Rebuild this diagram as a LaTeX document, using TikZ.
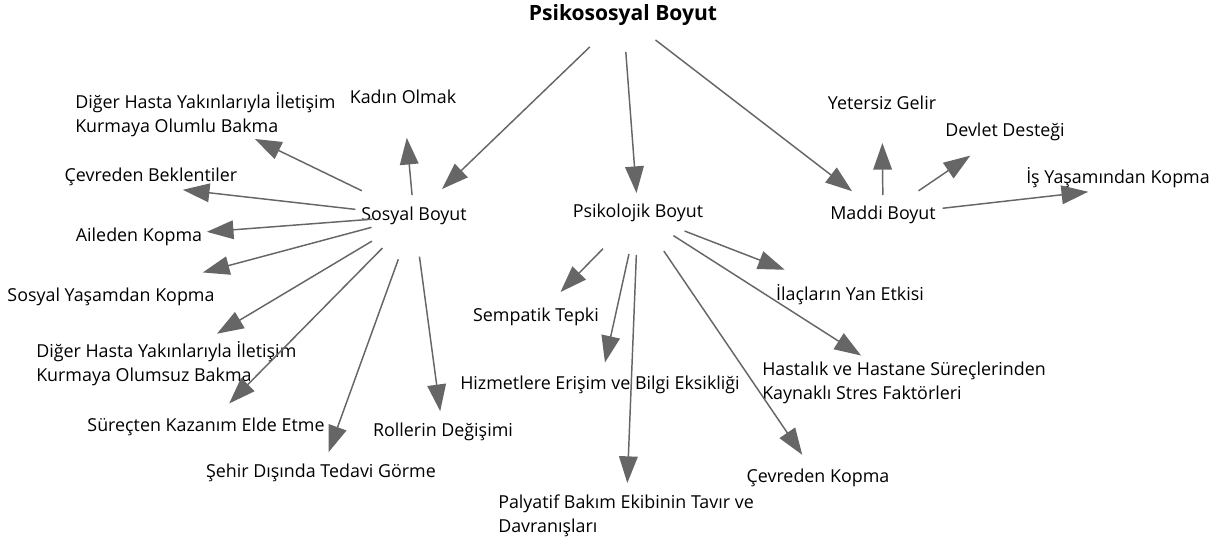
\documentclass[tikz,border=0pt]{standalone}
\usepackage{fontspec}
\setmainfont{Open Sans}
\usetikzlibrary{arrows.meta}
\definecolor{okgri}{HTML}{666666}
\begin{document}
\begin{tikzpicture}[x=0.75pt,y=-0.75pt,
    etiket/.style={inner sep=0pt, font=\fontsize{13.4}{18}\selectfont},
    ok/.style={draw=okgri, line width=1.1pt, -{Triangle[length=20pt,width=14pt]}, color=okgri},
    kisalt/.style 2 args={shorten <=#1*0.75pt, shorten >=#2*0.75pt}]
        \useasboundingbox (0,0) rectangle (1227,541);
        % ana baslik
        \node[etiket, font=\fontsize{15.8}{18}\selectfont\bfseries] (psiko) at (623,15) {Psikososyal Boyut};
        % boyutlar
        \node[etiket] (sosyal) at (414,216) {Sosyal Boyut};
        \node[etiket] (psikolojik) at (638,213) {Psikolojik Boyut};
        \node[etiket] (maddi) at (883,215) {Maddi Boyut};
        % maddi boyut
        \node[etiket] (yetersiz) at (882,103) {Yetersiz Gelir};
        \node[etiket] (devlet) at (1005,132) {Devlet Desteği};
        \node[etiket] (isyasam) at (1118,178) {İş Yaşamından Kopma};
        % sosyal boyut
        \node[etiket] (kadin) at (403,97) {Kadın Olmak};
        \node[etiket, anchor=west, align=left] (olumlu) at (75,115) {Diğer Hasta Yakınlarıyla İletişim\\Kurmaya Olumlu Bakma};
        \node[etiket] (beklenti) at (151,177) {Çevreden Beklentiler};
        \node[etiket] (aileden) at (139,237) {Aileden Kopma};
        \node[etiket] (sosyalyasam) at (111,297) {Sosyal Yaşamdan Kopma};
        \node[etiket, anchor=west, align=left] (olumsuz) at (36,364) {Diğer Hasta Yakınlarıyla İletişim\\Kurmaya Olumsuz Bakma};
        \node[etiket] (surecten) at (206,427) {Süreçten Kazanım Elde Etme};
        \node[etiket] (roller) at (443,432) {Rollerin Değişimi};
        \node[etiket] (sehir) at (321,473) {Şehir Dışında Tedavi Görme};
        % psikolojik boyut
        \node[etiket] (sempatik) at (536,317) {Sempatik Tepki};
        \node[etiket] (hizmet) at (600,385) {Hizmetlere Erişim ve Bilgi Eksikliği};
        \node[etiket, anchor=west, align=left] (palyatif) at (498,516) {Palyatif Bakım Ekibinin Tavır ve\\Davranışları};
        \node[etiket] (cevrekopma) at (818,478) {Çevreden Kopma};
        \node[etiket] (ilac) at (850,295) {İlaçların Yan Etkisi};
        \node[etiket, anchor=west, align=left] (hastalik) at (762,383) {Hastalık ve Hastane Süreçlerinden\\Kaynaklı Stres Faktörleri};
        % oklar
        \draw[ok, kisalt={46}{39}] (psiko.center) -- (sosyal.center);
        \draw[ok, kisalt={37}{20}] (psiko.center) -- (psikolojik.center);
        \draw[ok, kisalt={41}{39}] (psiko.center) -- (maddi.center);
        \draw[ok, kisalt={20}{40}] (maddi.center) -- (yetersiz.center);
        \draw[ok, kisalt={43}{42}] (maddi.center) -- (devlet.center);
        \draw[ok, kisalt={60}{30}] (maddi.center) -- (isyasam.south);
        \draw[ok, kisalt={21}{41}] (sosyal.center) -- (kadin.center);
        \draw[ok, kisalt={58}{55}] (sosyal.center) -- (olumlu.center);
        \draw[ok, kisalt={59}{32}] (sosyal.center) -- (beklenti.south);
        \draw[ok, kisalt={42}{68}] (sosyal.center) -- (aileden.center);
        \draw[ok, kisalt={44}{95}] (sosyal.center) -- (sosyalyasam.center);
        \draw[ok, kisalt={49}{59}] (sosyal.center) -- (olumsuz.center);
        \draw[ok, kisalt={45}{33}] (sosyal.center) -- (surecten.center);
        \draw[ok, kisalt={46}{22}] (sosyal.center) -- (sehir.center);
        \draw[ok, kisalt={41}{21}] (sosyal.center) -- (roller.center);
        \draw[ok, kisalt={50}{35}] (psikolojik.center) -- (sempatik.center);
        \draw[ok, kisalt={42}{23}] (psikolojik.center) -- (hizmet.center);
        \draw[ok, kisalt={42}{33}] (psikolojik.center) -- (palyatif.center);
        \draw[ok, kisalt={46}{28}] (psikolojik.center) -- (cevrekopma.center);
        \draw[ok, kisalt={42}{51}] (psikolojik.center) -- (hastalik.center);
        \draw[ok, kisalt={50}{70}] (psikolojik.center) -- (ilac.center);
\end{tikzpicture}
\end{document}
